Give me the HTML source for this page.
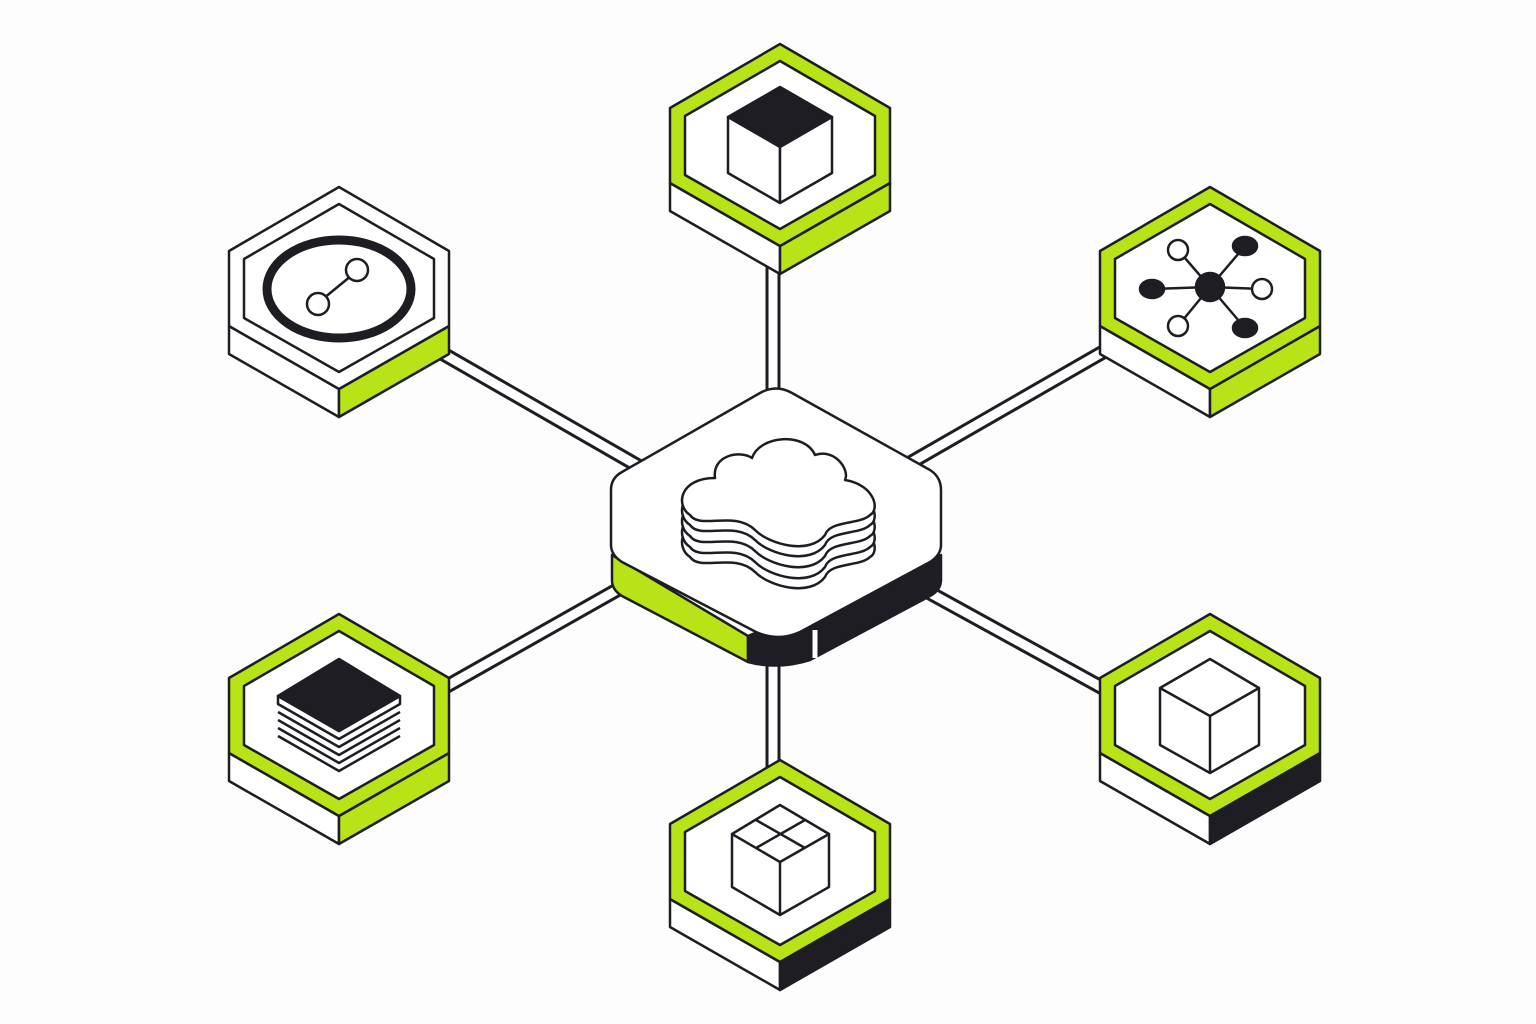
<!DOCTYPE html>
<html><head><meta charset="utf-8"><style>html,body{margin:0;padding:0;background:#fff}svg{display:block}</style></head>
<body>
<svg width="1536" height="1024" viewBox="0 0 1536 1024" xmlns="http://www.w3.org/2000/svg">
<rect width="1536" height="1024" fill="#fdfdfd"/>
<defs>
<path id="cloud" d="M690,515 C675,505 680,478 715,478 C712,455 740,450 752,458 C760,435 805,432 815,455 C835,448 850,470 845,480 C875,485 880,510 870,515 C860,525 830,520 825,535 C810,555 770,545 755,530 C735,510 700,530 690,515 Z"/>
</defs>
<g stroke-linecap="butt">
<g stroke="#1e1d24" stroke-width="15" fill="none">
<line x1="773" y1="265" x2="773" y2="400"/>
<line x1="773" y1="650" x2="773" y2="775"/>
<line x1="440" y1="352" x2="640" y2="467"/>
<line x1="1110" y1="348" x2="910" y2="463"/>
<line x1="440" y1="690" x2="640" y2="577"/>
<line x1="1110" y1="692" x2="910" y2="582"/>
</g>
<g stroke="#fff" stroke-width="9" fill="none">
<line x1="773" y1="265" x2="773" y2="400"/>
<line x1="773" y1="650" x2="773" y2="775"/>
<line x1="440" y1="352" x2="640" y2="467"/>
<line x1="1110" y1="348" x2="910" y2="463"/>
<line x1="440" y1="690" x2="640" y2="577"/>
<line x1="1110" y1="692" x2="910" y2="582"/>
</g>
</g>

<g stroke="#1e1d24" stroke-width="2.5" stroke-linejoin="round">
<g transform="translate(780,44)">
<polygon points="-110,139 0,202 0,230 -110,167" fill="#fff"/>
<polygon points="0,202 110,139 110,167 0,230" fill="#b8e316"/>
<polygon points="0,0 110,64 110,139 0,202 -110,139 -110,64" fill="#b8e316"/>
<polygon points="0,17 95,72 95,131 0,185 -95,131 -95,72" fill="#fff"/>
<polygon points="0,43 52,73 0,103 -52,73" fill="#1e1d24"/>
<polygon points="-52,73 0,103 0,159 -52,129" fill="#fff"/>
<polygon points="0,103 52,73 52,129 0,159" fill="#fff"/>
</g>
<g transform="translate(339,187)">
<polygon points="-110,139 0,202 0,230 -110,167" fill="#fff"/>
<polygon points="0,202 110,139 110,167 0,230" fill="#b8e316"/>
<polygon points="0,0 110,64 110,139 0,202 -110,139 -110,64" fill="#fff"/>
<polygon points="0,17 95,72 95,131 0,185 -95,131 -95,72" fill="#fff"/>
<ellipse cx="0" cy="102" rx="72" ry="49" fill="#fff" stroke-width="9"/>
<line x1="-21" y1="116" x2="18" y2="84"/>
<circle cx="-21" cy="117" r="11" fill="#fff"/>
<circle cx="18" cy="83" r="11" fill="#fff"/>
</g>
<g transform="translate(1210,187)">
<polygon points="-110,139 0,202 0,230 -110,167" fill="#fff"/>
<polygon points="0,202 110,139 110,167 0,230" fill="#b8e316"/>
<polygon points="0,0 110,64 110,139 0,202 -110,139 -110,64" fill="#b8e316"/>
<polygon points="0,17 95,72 95,131 0,185 -95,131 -95,72" fill="#fff"/>
<line x1="0" y1="100" x2="-32" y2="63"/><line x1="0" y1="100" x2="35" y2="59"/>
<line x1="0" y1="100" x2="-58" y2="102"/><line x1="0" y1="100" x2="52" y2="102"/>
<line x1="0" y1="100" x2="-32" y2="139"/><line x1="0" y1="100" x2="35" y2="141"/>
<circle cx="0" cy="100" r="14" fill="#1e1d24"/>
<circle cx="-32" cy="63" r="10" fill="#fff"/>
<ellipse cx="35" cy="59" rx="12" ry="9" fill="#1e1d24"/>
<ellipse cx="-58" cy="102" rx="12" ry="9" fill="#1e1d24"/>
<circle cx="52" cy="102" r="10" fill="#fff"/>
<circle cx="-32" cy="139" r="10" fill="#fff"/>
<ellipse cx="35" cy="141" rx="12" ry="9" fill="#1e1d24"/>
</g>
<g transform="translate(339,614)">
<polygon points="-110,139 0,202 0,230 -110,167" fill="#fff"/>
<polygon points="0,202 110,139 110,167 0,230" fill="#b8e316"/>
<polygon points="0,0 110,64 110,139 0,202 -110,139 -110,64" fill="#b8e316"/>
<polygon points="0,17 95,72 95,131 0,185 -95,131 -95,72" fill="#fff"/>
<g fill="none" stroke-width="2.5">
<polyline points="-61,98 0,133 61,98"/>
<polyline points="-61,106 0,141 61,106"/>
<polyline points="-61,114 0,149 61,114"/>
<polyline points="-61,122 0,157 61,122"/>
</g>
<polygon points="-61,82 0,117 61,82 61,90 0,125 -61,90" fill="#fff"/>
<polygon points="0,45 61,82 0,117 -61,82" fill="#1e1d24"/>
</g>
<g transform="translate(1210,614)">
<polygon points="-110,139 0,202 0,230 -110,167" fill="#fff"/>
<polygon points="0,202 110,139 110,167 0,230" fill="#1e1d24"/>
<polygon points="0,0 110,64 110,139 0,202 -110,139 -110,64" fill="#b8e316"/>
<polygon points="0,17 95,72 95,131 0,185 -95,131 -95,72" fill="#fff"/>
<polygon points="0,45 49,74 49,131 0,159 -50,131 -50,74" fill="#fff"/>
<polyline points="-50,74 0,102 49,74" fill="none"/>
<line x1="0" y1="102" x2="0" y2="159"/>
</g>
<g transform="translate(780,760)">
<polygon points="-110,139 0,202 0,230 -110,167" fill="#fff"/>
<polygon points="0,202 110,139 110,167 0,230" fill="#1e1d24"/>
<polygon points="0,0 110,64 110,139 0,202 -110,139 -110,64" fill="#b8e316"/>
<polygon points="0,17 95,72 95,131 0,185 -95,131 -95,72" fill="#fff"/>
<polygon points="0,45 49,74 49,127 0,155 -48,127 -48,74" fill="#fff"/>
<polyline points="-48,74 0,102 49,74" fill="none"/>
<line x1="0" y1="102" x2="0" y2="155"/>
<line x1="-24" y1="60" x2="25" y2="88"/>
<line x1="25" y1="60" x2="-24" y2="88"/>
</g>

<path d="M612,555 L612,580 Q612,590 622,596 L748,662 L748,636 Z" fill="#b8e316"/>
<path d="M748,636 L748,662 Q778,670 810,660 L930,596 Q941,590 941,580 L941,555 Z" fill="#1e1d24"/>
<line x1="815" y1="630" x2="815" y2="658" stroke="#fff" stroke-width="5"/>
<path d="M760,393 Q776,384 792,393 L930,470 Q941,477 941,490 L941,545 Q941,555 930,562 L800,632 Q778,642 756,632 L622,562 Q611,555 611,545 L611,490 Q611,478 622,472 Z" fill="#fff"/>
<g fill="#fff">
<use href="#cloud" transform="translate(0,42)"/>
<use href="#cloud" transform="translate(0,32)"/>
<use href="#cloud" transform="translate(0,21)"/>
<use href="#cloud" transform="translate(0,10)"/>
<use href="#cloud"/>
</g>
</g>
</svg>
</body></html>
